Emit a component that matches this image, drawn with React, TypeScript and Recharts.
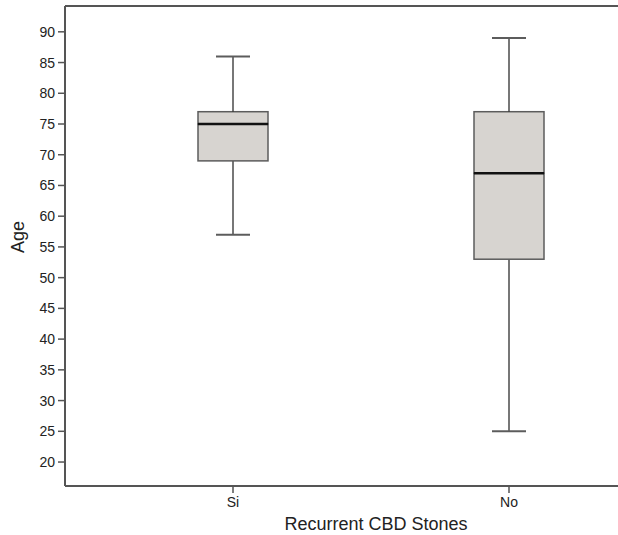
import React from "react";
import { BarChart, Bar, XAxis, YAxis, ReferenceLine } from "recharts";

// Box plot of age by recurrence group (min, Q1, median, Q3, max)
const groups = ["Si", "No"];
const mins = [57, 25];
const q1s = [69, 53];
const medians = [75, 67];
const q3s = [77, 77];
const maxs = [86, 89];
const yTicks = [20, 25, 30, 35, 40, 45, 50, 55, 60, 65, 70, 75, 80, 85, 90];
const yDomain = [16.1, 94.2];

const data = groups.map((group, i) => ({
  group,
  base: mins[i],
  lowWhisker: q1s[i] - mins[i],
  lowBox: medians[i] - q1s[i],
  highBox: q3s[i] - medians[i],
  highWhisker: maxs[i] - q3s[i],
}));

const AXIS = "#555555";
const LINE = "#2e2e2e";
const BOX_FILL = "#d7d4d0";
const BOX_STROKE = "#5c5c5c";
const CAP = 34;
const FONT = "Liberation Sans, Arial, sans-serif";

const LowWhisker = (props: any) => {
  const { x, y, width, height } = props;
  const cx = x + width / 2;
  return (
    <g>
      <line x1={cx} x2={cx} y1={y} y2={y + height} stroke={LINE} strokeWidth={1.3} />
      <line x1={cx - CAP / 2} x2={cx + CAP / 2} y1={y + height} y2={y + height} stroke={BOX_STROKE} strokeWidth={2} />
    </g>
  );
};

const HighWhisker = (props: any) => {
  const { x, y, width, height } = props;
  const cx = x + width / 2;
  return (
    <g>
      <line x1={cx} x2={cx} y1={y} y2={y + height} stroke={LINE} strokeWidth={1.3} />
      <line x1={cx - CAP / 2} x2={cx + CAP / 2} y1={y} y2={y} stroke={BOX_STROKE} strokeWidth={2} />
    </g>
  );
};

const LowBox = (props: any) => {
  const { x, y, width, height } = props;
  return <rect x={x} y={y} width={width} height={height} fill={BOX_FILL} stroke={BOX_STROKE} strokeWidth={1.5} />;
};

const HighBox = (props: any) => {
  const { x, y, width, height } = props;
  return (
    <g>
      <rect x={x} y={y} width={width} height={height} fill={BOX_FILL} stroke={BOX_STROKE} strokeWidth={1.5} />
      {/* median line */}
      <line x1={x} x2={x + width} y1={y + height} y2={y + height} stroke="#111" strokeWidth={2.5} />
    </g>
  );
};

const App = () => (
  <div style={{ position: "fixed", left: 0, top: 0, width: 618, height: 535, overflow: "hidden", background: "#fff" }}>
    <BarChart
      width={690}
      height={535}
      data={data}
      margin={{ top: 6, right: 13, left: 0, bottom: 0 }}
      barSize={70}
    >
      <XAxis
        dataKey="group"
        height={49}
        padding={{ left: 30, right: 30 }}
        axisLine={{ stroke: AXIS, strokeWidth: 2 }}
        tickLine={{ stroke: AXIS, strokeWidth: 1.5 }}
        tickSize={7}
        tickMargin={4}
        tick={{ fill: "#222", fontSize: 14, fontFamily: FONT }}
        label={{
          value: "Recurrent CBD Stones",
          position: "insideBottom",
          offset: 5,
          fill: "#222",
          fontSize: 18,
          fontFamily: FONT,
          dx: 5,
        }}
      />
      <YAxis
        width={65}
        type="number"
        domain={yDomain}
        allowDataOverflow
        ticks={yTicks}
        interval={0}
        axisLine={{ stroke: AXIS, strokeWidth: 2 }}
        tickLine={{ stroke: AXIS, strokeWidth: 1.5 }}
        tickSize={7}
        tickMargin={3}
        tick={{ fill: "#222", fontSize: 14, fontFamily: FONT }}
        label={{
          value: "Age",
          angle: -90,
          position: "center",
          dx: -15,
          dy: -9,
          fill: "#222",
          fontSize: 18,
          fontFamily: FONT,
        }}
      />
      <ReferenceLine y={yDomain[1]} stroke={AXIS} strokeWidth={2} ifOverflow="visible" />
      <Bar dataKey="base" stackId="box" fill="transparent" isAnimationActive={false} />
      <Bar dataKey="lowWhisker" stackId="box" shape={LowWhisker} isAnimationActive={false} />
      <Bar dataKey="lowBox" stackId="box" shape={LowBox} isAnimationActive={false} />
      <Bar dataKey="highBox" stackId="box" shape={HighBox} isAnimationActive={false} />
      <Bar dataKey="highWhisker" stackId="box" shape={HighWhisker} isAnimationActive={false} />
    </BarChart>
  </div>
);

export default App;
